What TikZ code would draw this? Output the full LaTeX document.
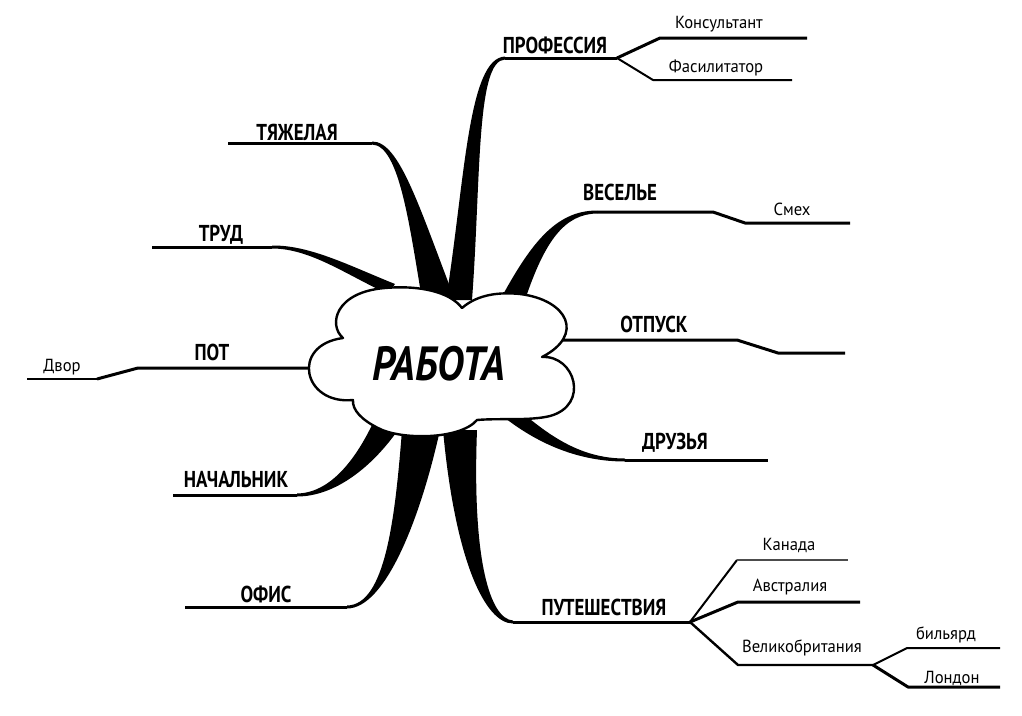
\documentclass[tikz,border=0pt]{standalone}
\usepackage{fontspec}
\setmainfont{PT Sans}
\newfontfamily\labfont[FakeStretch=0.82]{PT Sans}
\newfontfamily\subfont[FakeStretch=0.95]{PT Sans}
\newfontfamily\titlefont[FakeStretch=0.85]{PT Sans}
\tikzset{
  mainline/.style={line width=3pt, line join=round},
  midline/.style={line width=2.4pt, line join=round},
  thinline/.style={line width=2pt, line join=round},
  branchfill/.style={fill=black, draw=none},
  cloudst/.style={draw=black, fill=white, line width=2.4pt, line join=round},
  biglab/.style={font={\labfont\bfseries\fontsize{23}{23}\selectfont}, anchor=base, inner sep=0pt},
  smalllab/.style={font={\subfont\fontsize{17.5}{17.5}\selectfont}, anchor=base, inner sep=0pt},
  titlelab/.style={font={\titlefont\bfseries\itshape\fontsize{48}{48}\selectfont}, anchor=base, inner sep=0pt}
}
\begin{document}
\begin{tikzpicture}[x=1pt,y=-1pt]
\useasboundingbox (0,0) rectangle (1022,715);
\fill[white] (0,0) rectangle (1022,715);

% ---------- named points ----------
\coordinate (profA) at (505,58);
\coordinate (profS) at (617,58);
\coordinate (kons) at (660,38);
\coordinate (konsE) at (807,38);
\coordinate (fas) at (653,80);
\coordinate (fasE) at (792,80);
\coordinate (tyaA) at (372,143);
\coordinate (tyaE) at (228,143);
\coordinate (trudA) at (272,247);
\coordinate (trudE) at (152,247);
\coordinate (potA) at (330,368);
\coordinate (potB) at (138,368);
\coordinate (dvor) at (97,379);
\coordinate (dvorE) at (27,379);
\coordinate (nachA) at (297,495);
\coordinate (nachE) at (173,495);
\coordinate (ofisA) at (347,607);
\coordinate (ofisE) at (185,607);
\coordinate (putA) at (513,622);
\coordinate (putS) at (690,622);
\coordinate (kan) at (737,560);
\coordinate (kanE) at (848,560);
\coordinate (avs) at (738,602);
\coordinate (avsE) at (860,602);
\coordinate (vel) at (738,665);
\coordinate (velS) at (873,665);
\coordinate (bil) at (907,648);
\coordinate (bilE) at (1000,648);
\coordinate (lon) at (908,687);
\coordinate (lonE) at (1000,687);
\coordinate (druA) at (625,460);
\coordinate (druE) at (768,460);
\coordinate (otpA) at (545,340);
\coordinate (otpB) at (737,340);
\coordinate (otpC) at (778,353);
\coordinate (otpE) at (845,353);
\coordinate (vesA) at (597,212);
\coordinate (vesB) at (713,212);
\coordinate (smeh) at (745,223);
\coordinate (smehE) at (850,223);

% ---------- tapered branches ----------
\fill[branchfill] (446,300) .. controls (465,180) and (468,58) .. (505,56.5) -- (505,59.5) .. controls (476,60) and (481,180) .. (472,300) -- cycle;
\fill[branchfill] (372,141.5) .. controls (400,141) and (420,210) .. (457,305) -- (423,305) .. controls (410,230) and (400,145) .. (372,144.5) -- cycle;
\fill[branchfill] (272,245.5) .. controls (310,245) and (350,266) .. (395,284) -- (388,294) .. controls (345,274) and (310,248.5) .. (272,248.5) -- cycle;
\fill[branchfill] (297,493.5) .. controls (330,493) and (355,460) .. (372,425) -- (398,430) .. controls (372,467) and (335,496.5) .. (297,496.5) -- cycle;
\fill[branchfill] (347,605.5) .. controls (385,605) and (395,520) .. (402,430) -- (440,430) .. controls (420,520) and (385,608.5) .. (347,608.5) -- cycle;
\fill[branchfill] (443,430) .. controls (455,560) and (485,623.5) .. (513,623.5) -- (513,620.5) .. controls (490,619) and (472,560) .. (477,430) -- cycle;
\fill[branchfill] (525,415) .. controls (555,440) and (585,458.5) .. (625,458.5) -- (625,461.5) .. controls (580,461.5) and (540,445) .. (505,418) -- cycle;
\fill[branchfill] (500,300) .. controls (530,245) and (555,210.5) .. (597,210.5) -- (597,213.5) .. controls (565,214) and (545,240) .. (525,300) -- cycle;

% ---------- main lines ----------
\draw[mainline] (profA) -- (profS);
\draw[mainline] (tyaA) -- (tyaE);
\draw[mainline] (trudA) -- (trudE);
\draw[mainline] (potA) -- (potB) -- (dvor);
\draw[midline] (dvor) -- (dvorE);
\draw[mainline] (nachA) -- (nachE);
\draw[mainline] (ofisA) -- (ofisE);
\draw[mainline] (putA) -- (putS);
\draw[mainline] (druA) -- (druE);
\draw[mainline] (otpA) -- (otpB) -- (otpC) -- (otpE);
\draw[mainline] (vesA) -- (vesB) -- (smeh) -- (smehE);

% ---------- sub branches ----------
\draw[mainline] (profS) -- (kons) -- (konsE);
\draw[thinline] (profS) -- (fas) -- (fasE);
\draw[thinline] (putS) -- (kan);
\draw[line width=1.5pt, black!70] (kan) -- (kanE);
\draw[mainline] (putS) -- (avs) -- (avsE);
\draw[midline] (putS) -- (vel) -- (velS);
\draw[thinline] (velS) -- (bil) -- (bilE);
\draw[mainline] (velS) -- (lon) -- (lonE);

% ---------- cloud ----------
\draw[cloudst] (343,338) .. controls (328,325) and (335,292) .. (385,288)
  .. controls (420,285) and (450,292) .. (462,308)
  .. controls (478,294) and (500,292) .. (520,294)
  .. controls (568,300) and (585,335) .. (542,357)
  .. controls (575,355) and (590,405) .. (550,416)
  .. controls (530,421) and (500,418) .. (477,420)
  .. controls (460,440) and (400,440) .. (378,428)
  .. controls (362,420) and (352,410) .. (353,400)
  .. controls (303,405) and (290,345) .. (343,338) -- cycle;
\node[titlelab] (rabota) at (439,380) {РАБОТА};

% ---------- labels ----------
\node[biglab] (lprof) at (555,53) {ПРОФЕССИЯ};
\node[smalllab] (lkons) at (719,28) {Консультант};
\node[smalllab] (lfas) at (716,72) {Фасилитатор};
\node[biglab] (ltya) at (297,140) {ТЯЖЕЛАЯ};
\node[biglab] (ltrud) at (221,241) {ТРУД};
\node[biglab] (lpot) at (212,360) {ПОТ};
\node[smalllab] (ldvor) at (62,371) {Двор};
\node[biglab] (lnach) at (236,487) {НАЧАЛЬНИК};
\node[biglab] (lofis) at (266,602) {ОФИС};
\node[biglab] (lput) at (604,615) {ПУТЕШЕСТВИЯ};
\node[smalllab] (lkan) at (789,550) {Канада};
\node[smalllab] (lavs) at (790,591) {Австралия};
\node[smalllab] (lvel) at (802,652) {Великобритания};
\node[smalllab] (lbil) at (946,639) {бильярд};
\node[smalllab] (llon) at (952,683) {Лондон};
\node[biglab] (lves) at (620,200) {ВЕСЕЛЬЕ};
\node[smalllab] (lsmeh) at (792,215) {Смех};
\node[biglab] (lotp) at (654,332) {ОТПУСК};
\node[biglab] (ldru) at (675,449) {ДРУЗЬЯ};
\end{tikzpicture}
\end{document}
